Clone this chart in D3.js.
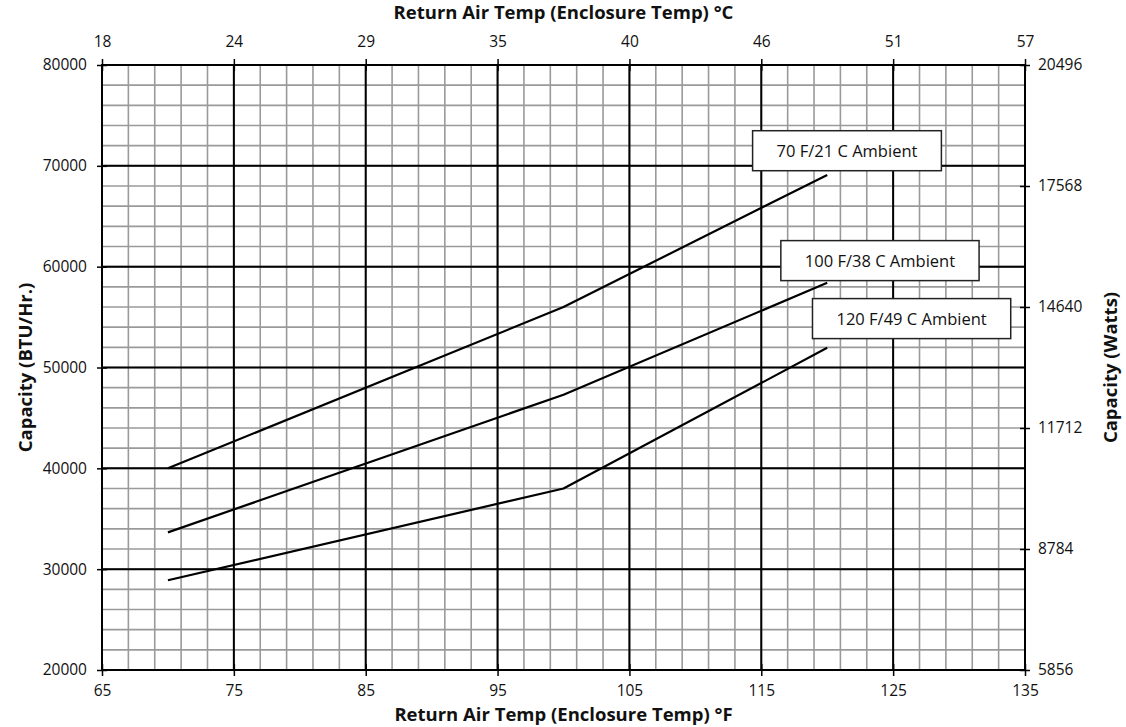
<!DOCTYPE html>
<html>
<head>
<meta charset="utf-8">
<script src="https://cdn.jsdelivr.net/npm/d3@7"></script>
<style>
  body { margin: 0; background: #fff; }
  text { font-family: "Open Sans", sans-serif; fill: #111; }
</style>
</head>
<body>
<script>
// return air temp in °F
var tempF = [70, 100, 120];

// capacity (BTU/Hr.) per ambient condition
var cap70 = [40000, 56000, 69100];
var cap100 = [33650, 47300, 58400];
var cap120 = [28900, 38000, 51950];

var seriesNames = ["70 F/21 C Ambient", "100 F/38 C Ambient", "120 F/49 C Ambient"];

var fTicks = [65, 75, 85, 95, 105, 115, 125, 135];
var cTickLabels = ["18", "24", "29", "35", "40", "46", "51", "57"];
var btuTicks = [20000, 30000, 40000, 50000, 60000, 70000, 80000];
var wattTicks = [5856, 8784, 11712, 14640, 17568, 20496];

var width = 1126, height = 727,
    margin = { top: 65, right: 101, bottom: 57, left: 102 },
    w = width - margin.left - margin.right,
    h = height - margin.top - margin.bottom;

var svg = d3.select("body").append("svg")
    .attr("width", width)
    .attr("height", height);

var g = svg.append("g")
    .attr("transform", "translate(" + margin.left + "," + margin.top + ")");

var x = d3.scaleLinear().domain([65, 135]).range([0, w]);
var y = d3.scaleLinear().domain([20000, 80000]).range([h, 0]);
var yW = d3.scaleLinear().domain([5856, 20496]).range([h, 0]);

// minor grid
g.append("g").selectAll("line")
    .data(d3.range(65, 136, 2))
    .enter().append("line")
    .attr("x1", function (d) { return x(d); })
    .attr("x2", function (d) { return x(d); })
    .attr("y1", 0).attr("y2", h)
    .attr("stroke", "#9a9a9a").attr("stroke-width", 1.6);

g.append("g").selectAll("line")
    .data(d3.range(20000, 80001, 2000))
    .enter().append("line")
    .attr("y1", function (d) { return y(d); })
    .attr("y2", function (d) { return y(d); })
    .attr("x1", 0).attr("x2", w)
    .attr("stroke", "#9a9a9a").attr("stroke-width", 1.6);

// major grid
g.append("g").selectAll("line")
    .data(fTicks)
    .enter().append("line")
    .attr("x1", function (d) { return x(d); })
    .attr("x2", function (d) { return x(d); })
    .attr("y1", 0).attr("y2", h)
    .attr("stroke", "#000").attr("stroke-width", 2);

g.append("g").selectAll("line")
    .data(btuTicks)
    .enter().append("line")
    .attr("y1", function (d) { return y(d); })
    .attr("y2", function (d) { return y(d); })
    .attr("x1", 0).attr("x2", w)
    .attr("stroke", "#000").attr("stroke-width", 2);

// axes (ticks cross the frame)
function styleAxis(sel) {
    sel.select(".domain").remove();
    sel.selectAll(".tick line").attr("stroke", "#000").attr("stroke-width", 1.5);
    sel.selectAll(".tick text").style("font-size", "15.5px").attr("fill", "#111")
        .style("font-family", "'Open Sans', sans-serif");
}

g.append("g")
    .attr("transform", "translate(0," + h + ")")
    .call(d3.axisBottom(x).tickValues(fTicks).tickSize(6).tickPadding(9))
    .call(styleAxis)
    .selectAll(".tick line").attr("y1", -6);

g.append("g")
    .call(d3.axisTop(x).tickValues(fTicks).tickSize(6).tickPadding(12)
        .tickFormat(function (d, i) { return cTickLabels[i]; }))
    .call(styleAxis)
    .selectAll(".tick line").attr("y1", 6);

g.append("g")
    .call(d3.axisLeft(y).tickValues(btuTicks).tickSize(5).tickPadding(10)
        .tickFormat(d3.format("d")))
    .call(styleAxis)
    .selectAll(".tick line").attr("x1", 5);

g.append("g")
    .attr("transform", "translate(" + w + ",0)")
    .call(d3.axisRight(yW).tickValues(wattTicks).tickSize(5).tickPadding(8)
        .tickFormat(d3.format("d")))
    .call(styleAxis)
    .selectAll(".tick line").attr("x1", -5);

// frame
g.append("rect")
    .attr("width", w).attr("height", h)
    .attr("fill", "none").attr("stroke", "#000").attr("stroke-width", 2);

// series
var line = d3.line()
    .x(function (d) { return x(d[0]); })
    .y(function (d) { return y(d[1]); });

[cap70, cap100, cap120].forEach(function (vals) {
    g.append("path")
        .datum(d3.zip(tempF, vals))
        .attr("d", line)
        .attr("fill", "none")
        .attr("stroke", "#000")
        .attr("stroke-width", 2.2)
        .attr("stroke-linejoin", "round");
});

// label boxes, placed in chart units
var labelSpots = [[121.5, 71500], [124, 60600], [126.4, 54850]];

seriesNames.forEach(function (name, i) {
    var lg = g.append("g")
        .attr("transform", "translate(" + x(labelSpots[i][0]) + "," + y(labelSpots[i][1]) + ")");
    var box = lg.append("rect").attr("fill", "#fff").attr("stroke", "#222").attr("stroke-width", 1.5);
    var t = lg.append("text")
        .attr("text-anchor", "middle")
        .attr("dy", "0.36em")
        .style("font-size", "16.5px")
        .text(name);
    var bw = t.node().getComputedTextLength() + 48;
    box.attr("x", -bw / 2).attr("y", -20).attr("width", bw).attr("height", 40);
});

// axis titles
var titleSize = "18.5px";

svg.append("text")
    .attr("x", margin.left + w / 2).attr("y", 721)
    .attr("text-anchor", "middle")
    .style("font-size", titleSize).style("font-weight", "bold")
    .text("Return Air Temp (Enclosure Temp) °F");

svg.append("text")
    .attr("x", margin.left + w / 2).attr("y", 19)
    .attr("text-anchor", "middle")
    .style("font-size", titleSize).style("font-weight", "bold")
    .text("Return Air Temp (Enclosure Temp) °C");

svg.append("text")
    .attr("transform", "translate(32," + (margin.top + h / 2) + ") rotate(-90)")
    .attr("text-anchor", "middle")
    .style("font-size", titleSize).style("font-weight", "bold")
    .text("Capacity (BTU/Hr.)");

svg.append("text")
    .attr("transform", "translate(1117," + (margin.top + h / 2) + ") rotate(-90)")
    .attr("text-anchor", "middle")
    .style("font-size", titleSize).style("font-weight", "bold")
    .text("Capacity (Watts)");
</script>
</body>
</html>
